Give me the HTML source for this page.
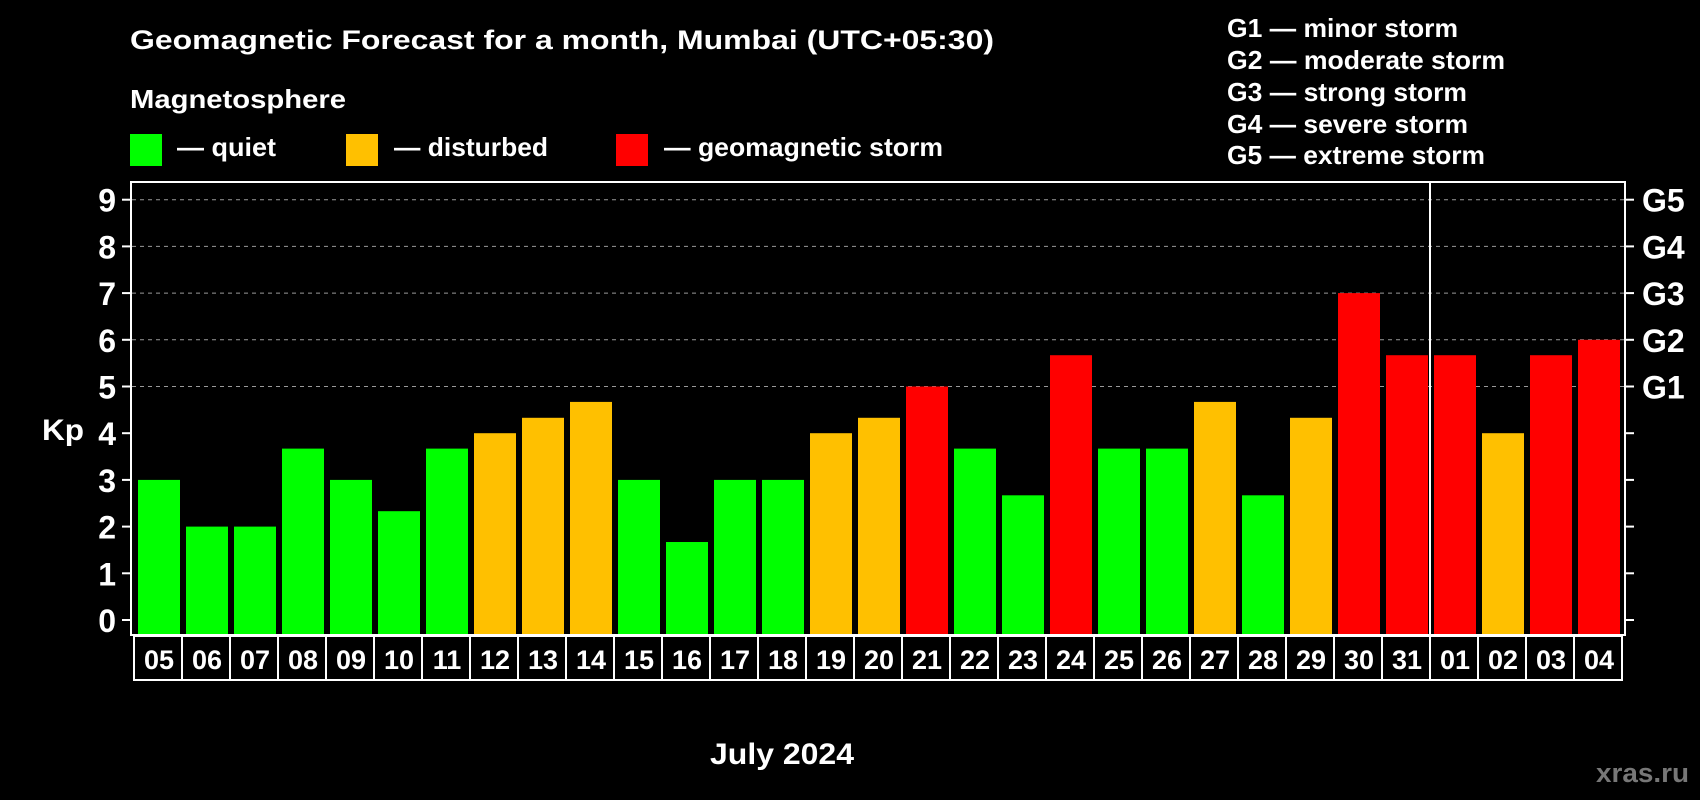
<!DOCTYPE html>
<html><head><meta charset="utf-8"><style>
body{margin:0;background:#000;width:1700px;height:800px;overflow:hidden}
svg text{font-family:"Liberation Sans",Arial,sans-serif;font-weight:bold;fill:#fff}
</style></head><body>
<svg id="c" width="1700" height="800" style="position:absolute;left:0;top:0">
<text x="130" y="49" font-size="27" textLength="864" lengthAdjust="spacingAndGlyphs">Geomagnetic Forecast for a month, Mumbai (UTC+05:30)</text>
<text x="130" y="108" font-size="26" textLength="216" lengthAdjust="spacingAndGlyphs">Magnetosphere</text>
<rect x="130" y="134" width="32" height="32" fill="#00ff00"/>
<text x="177" y="156" font-size="26" textLength="99" lengthAdjust="spacingAndGlyphs">— quiet</text>
<rect x="346" y="134" width="32" height="32" fill="#ffc000"/>
<text x="394" y="156" font-size="26" textLength="154" lengthAdjust="spacingAndGlyphs">— disturbed</text>
<rect x="616" y="134" width="32" height="32" fill="#ff0000"/>
<text x="664" y="156" font-size="26" textLength="279" lengthAdjust="spacingAndGlyphs">— geomagnetic storm</text>
<g font-size="26">
<text x="1227" y="37" textLength="231" lengthAdjust="spacingAndGlyphs">G1 — minor storm</text>
<text x="1227" y="69" textLength="278" lengthAdjust="spacingAndGlyphs">G2 — moderate storm</text>
<text x="1227" y="101" textLength="240" lengthAdjust="spacingAndGlyphs">G3 — strong storm</text>
<text x="1227" y="133" textLength="241" lengthAdjust="spacingAndGlyphs">G4 — severe storm</text>
<text x="1227" y="164" textLength="258" lengthAdjust="spacingAndGlyphs">G5 — extreme storm</text>
</g>
<text x="42" y="440" font-size="30" textLength="42" lengthAdjust="spacingAndGlyphs">Kp</text>
<text x="710" y="764" font-size="30" textLength="144" lengthAdjust="spacingAndGlyphs">July 2024</text>
<text x="1596" y="782" font-size="27" textLength="93" lengthAdjust="spacingAndGlyphs" style="fill:#777">xras.ru</text>
</svg>
<script>
const days=["05","06","07","08","09","10","11","12","13","14","15","16","17","18","19","20","21","22","23","24","25","26","27","28","29","30","31","01","02","03","04"];
const kp=[3,2,2,3.67,3,2.33,3.67,4,4.33,4.67,3,1.67,3,3,4,4.33,5,3.67,2.67,5.67,3.67,3.67,4.67,2.67,4.33,7,5.67,5.67,4,5.67,6];
const yTicks=[0,1,2,3,4,5,6,7,8,9];
const gLabels=["G1","G2","G3","G4","G5"];
const NS="http://www.w3.org/2000/svg",svg=document.getElementById('c');
function y(v){return 620-v*46.7;}
function col(v){return v>=5?"#ff0000":v>=4?"#ffc000":"#00ff00";}
function mk(t,a,txt){const e=document.createElementNS(NS,t);for(const k in a)e.setAttribute(k,a[k]);if(txt!=null)e.textContent=txt;svg.appendChild(e);return e;}
yTicks.forEach(v=>{
 if(v>=5){const g=mk('line',{x1:132,x2:1624,y1:y(v),y2:y(v),stroke:'#999','stroke-dasharray':'4,4','stroke-width':1});}
 mk('line',{x1:122,x2:131,y1:y(v),y2:y(v),stroke:'#fff','stroke-width':2});
 mk('line',{x1:1625,x2:1634,y1:y(v),y2:y(v),stroke:'#fff','stroke-width':2});
 const l=mk('text',{x:116,y:y(v)+12,'font-size':32,'text-anchor':'end'},v);
 
 
});
gLabels.forEach((g,i)=>{const l=mk('text',{x:1642,y:y(5+i)+12,'font-size':32},g);
 
 });
const n=days.length,pitch=(1578-138)/(n-1);
kp.forEach((v,i)=>{const bx=138+i*pitch;
 const r=mk('rect',{x:bx,y:y(v),width:42,height:635-y(v),fill:col(v)});
 
 
 mk('rect',{x:bx-4,y:636,width:pitch,height:44,fill:'none',stroke:'#fff','stroke-width':2});
 const t=mk('text',{x:bx+21,y:669,'font-size':27,'text-anchor':'middle'},days[i]);
 
 
});
const sep=138+27*pitch-4;
mk('line',{x1:sep,x2:sep,y1:182,y2:635,stroke:'#fff','stroke-width':2});
const fr=mk('rect',{x:131,y:182,width:1494,height:453,fill:'none',stroke:'#fff','stroke-width':2});


</script>
</body></html>
